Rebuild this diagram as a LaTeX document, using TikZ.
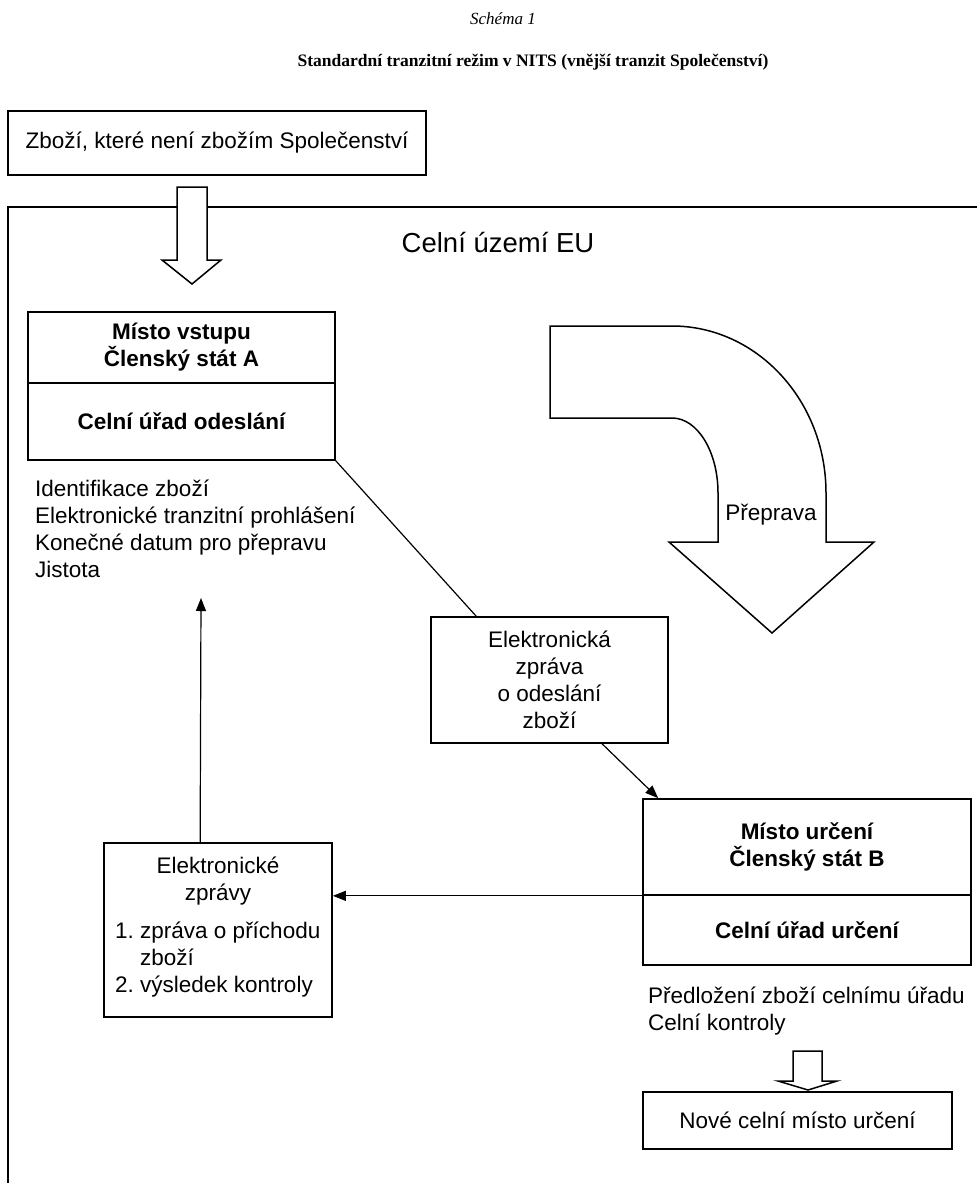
\documentclass[tikz,border=0pt]{standalone}
\usepackage{fontspec}
\setmainfont{Liberation Sans}
\newfontfamily\titleserif{Liberation Serif}
\usetikzlibrary{arrows.meta,calc}
\newcommand\mainsz{\fontsize{22.5}{27}\selectfont}
\begin{document}
\begin{tikzpicture}[x=1pt,y=-1pt,
  box/.style={draw,line width=1.7pt,inner sep=0pt,font=\mainsz,align=center},
  plain/.style={inner sep=0pt,font=\mainsz},
  conn/.style={line width=1.2pt},
  tip/.style={-{Triangle[length=13pt,width=10pt]}},
  hollow/.style={draw,line width=1.5pt,fill=white,line join=miter}]
\useasboundingbox (0,0) rectangle (977,1183);
\fill[white] (0,0) rectangle (977,1183);
% titles
\node[inner sep=0pt,font=\titleserif\itshape\fontsize{17}{20}\selectfont] (schema) at (503,19) {Schéma 1};
\node[inner sep=0pt,font=\titleserif\bfseries\fontsize{17.5}{21}\selectfont] (title) at (533,62) {Standardní tranzitní režim v NITS (vnější tranzit Společenství)};
% top box
\node[box,minimum width=418pt,minimum height=64pt] (top) at (217,143) {Zboží, které není zbožím Společenství};
% frame
\draw[line width=2pt] (977,207) -- (8,207) -- (8,1183);
% hollow arrow into frame
\draw[hollow] (177,187) -- (207,187) -- (207,260) -- (221,260) -- (192,284) -- (162,260) -- (177,260) -- cycle;
\node[inner sep=0pt,font=\fontsize{27.5}{33}\selectfont] (eu) at (498,243) {Celní území EU};
% box A
\node[box,minimum width=307pt,minimum height=71pt,font=\mainsz\bfseries] (Atop) at (181.5,347.5) {Místo vstupu\\Členský stát A};
\node[box,minimum width=307pt,minimum height=77pt,font=\mainsz\bfseries] (Abot) at (181.5,421.5) {Celní úřad odeslání};
\node[plain,anchor=north west,align=left] (Alist) at (35,480) {Identifikace zboží\\Elektronické tranzitní prohlášení\\Konečné datum pro přepravu\\Jistota};
% curved transport arrow
\draw[hollow] (550,326) -- (672,326)
  arc[start angle=90,end angle=0,x radius=154pt,y radius=167pt]
  -- (826,542) -- (874,542) -- (772,633) -- (669,542) -- (718,542) -- (718,493)
  arc[start angle=0,end angle=90,x radius=46pt,y radius=75pt]
  -- (550,418) -- cycle;
\node[plain] (prep) at (771,515) {Přeprava};
% message box
\node[box,minimum width=237pt,minimum height=126pt] (E1) at (549.5,680) {Elektronická\\zpráva\\o odeslání\\zboží};
% box B
\node[box,minimum width=328pt,minimum height=96pt,font=\mainsz\bfseries] (Btop) at (807,847) {Místo určení\\Členský stát B};
\node[box,minimum width=328pt,minimum height=70pt,font=\mainsz\bfseries] (Bbot) at (807,930) {Celní úřad určení};
\node[plain,anchor=north west,align=left] (Blist) at (648,987) {Předložení zboží celnímu úřadu\\Celní kontroly};
% small hollow arrow
\draw[hollow] (793,1051) -- (822,1051) -- (822,1081) -- (837,1081) -- (808,1090) -- (778,1081) -- (793,1081) -- cycle;
\node[box,minimum width=309pt,minimum height=57pt] (nove) at (797.5,1120.5) {Nové celní místo určení};
% electronic messages box
\node[box,minimum width=228pt,minimum height=174pt] (E2) at (218,930) {};
\node[plain,align=center] (E2head) at (218,881) {Elektronické\\zprávy};
\node[plain,anchor=north west,align=left] (E2list) at (115,922) {1.\ zpráva o příchodu\\\hspace*{25pt}zboží\\2.\ výsledek kontroly};
% connectors
\coordinate (e1in) at ($(E1.north west)+(46,0)$);
\draw[conn] (Abot.south east) -- (e1in);
\coordinate (e1out) at ($(E1.south west)+(172,0)$);
\coordinate (bin) at ($(Btop.north west)+(16,0)$);
\draw[conn,tip] (e1out) -- (bin);
\draw[conn,tip] (Btop.south west) -- (E2.east |- Btop.south west);
\coordinate (e2out) at ($(E2.north west)+(97,0)$);
\coordinate (upend) at (201,598);
\draw[conn,tip] (e2out) -- (upend);
\end{tikzpicture}
\end{document}
